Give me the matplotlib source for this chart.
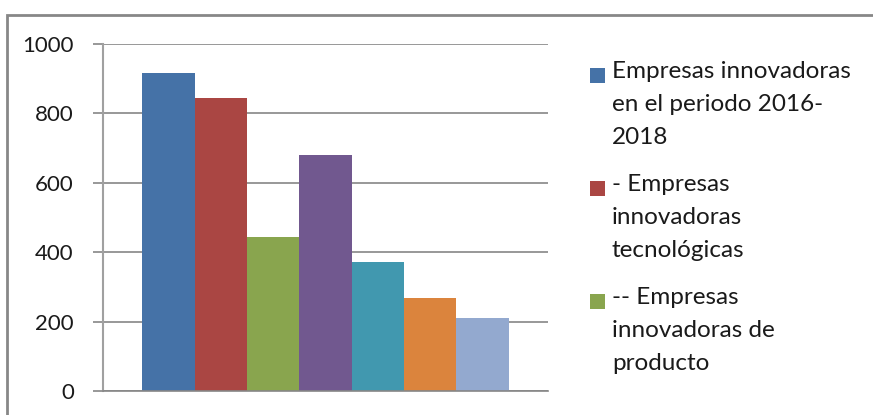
# Bar chart: empresas innovadoras (one category, seven series)

import matplotlib.pyplot as plt
from matplotlib.patches import Rectangle

plt.rcParams['font.family'] = ['Lato', 'DejaVu Sans']

# Data
series = [
    "Empresas innovadoras\nen el periodo 2016-\n2018",
    "- Empresas\ninnovadoras\ntecnológicas",
    "-- Empresas\ninnovadoras de\nproducto",
]
values = [916, 844, 444, 680, 372, 268, 210]
colors = ['#4572A7', '#AA4643', '#89A54E', '#71588F', '#4198AF', '#DB843D', '#93A9CF']
yticks = [0, 200, 400, 600, 800, 1000]

W, H = 873, 415
fig = plt.figure(figsize=(W / 100, H / 100), dpi=100)
ax = fig.add_axes([103 / W, 24 / H, 445 / W, 347 / H])

pos = list(range(len(values)))
ax.bar(pos, values, width=1.0, color=colors, zorder=2)

ax.set_xlim(-1.25, len(values) + 0.25)
ax.set_ylim(0, 1000)
ax.set_yticks(yticks)
ax.set_xticks([])
ax.grid(axis='y', color='#868686', linewidth=1.2, zorder=0)
ax.tick_params(axis='y', length=7, width=1.2, color='#868686', labelsize=16, pad=14,
               labelcolor='#1a1a1a')
for s in ['top', 'right', 'bottom']:
    ax.spines[s].set_visible(False)
ax.spines['left'].set_color('#a0a0a0')
ax.spines['left'].set_linewidth(1.5)
ax.axhline(0, color='#868686', linewidth=1.2, zorder=3, clip_on=False)

# Outer chart frame (cut off at right and bottom)
fig.patches.append(Rectangle((7 / W, -0.2), 1.2, (H - 15) / H + 0.2,
                             transform=fig.transFigure, fill=False,
                             edgecolor='#878787', linewidth=2))

# Legend (only the first three entries are visible)
tops = [61, 174, 287]
for lab, col, top in zip(series, colors, tops):
    fig.patches.append(Rectangle((590 / W, 1 - (top + 22) / H), 15 / W, 15 / H,
                                 transform=fig.transFigure, facecolor=col,
                                 edgecolor='none'))
    fig.text(612 / W, 1 - top / H, lab, ha='left', va='top', fontsize=17.5,
             linespacing=1.7, color='#1a1a1a')

plt.savefig('out.png', dpi=100)
